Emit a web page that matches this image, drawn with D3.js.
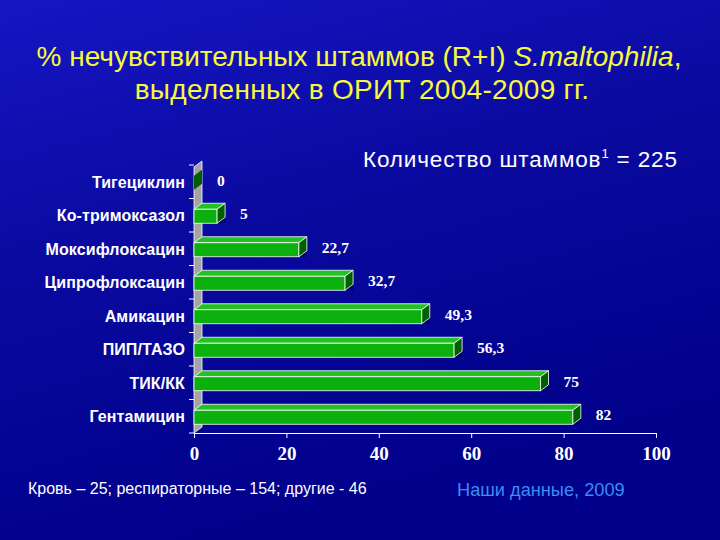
<!DOCTYPE html>
<html>
<head>
<meta charset="utf-8">
<script src="https://cdn.jsdelivr.net/npm/d3@7"></script>
<style>
  html, body { margin: 0; padding: 0; background: #000088; }
  svg { display: block; }
</style>
</head>
<body>
<div class="chart"></div>
<script>
// data
const categories = ['Тигециклин', 'Ко-тримоксазол', 'Моксифлоксацин', 'Ципрофлоксацин',
  'Амикацин', 'ПИП/ТАЗО', 'ТИК/КК', 'Гентамицин']
const values = [0, 5, 22.7, 32.7, 49.3, 56.3, 75, 82]
const xTicks = [0, 20, 40, 60, 80, 100]

const width = 720, height = 540
const depthX = 8, depthY = 6, barH = 14

let svg = d3.select('.chart').append('svg')
  .attr('width', width)
  .attr('height', height)

// slide background
let defs = svg.append('defs')
let grad = defs.append('linearGradient')
  .attr('id', 'bg')
  .attr('x1', 0).attr('y1', 0)
  .attr('x2', 0.35).attr('y2', 1)
grad.append('stop').attr('offset', 0).attr('stop-color', '#1616c4')
grad.append('stop').attr('offset', 0.45).attr('stop-color', '#0a0aa0')
grad.append('stop').attr('offset', 1).attr('stop-color', '#00008a')

svg.append('rect')
  .attr('width', width)
  .attr('height', height)
  .attr('fill', 'url(#bg)')

// title
const title = svg.append('text')
  .attr('text-anchor', 'middle')
  .attr('font-family', 'Liberation Sans, Arial, sans-serif')
  .attr('font-size', 28)
  .attr('fill', '#f8f83c')
title.append('tspan').attr('x', 359).attr('y', 66)
  .text('% нечувствительных штаммов (R+I) ')
title.append('tspan').attr('font-style', 'italic').text('S.maltophilia')
title.append('tspan').text(',')
title.append('tspan').attr('x', 362).attr('y', 99)
  .attr('letter-spacing', 0.3)
  .text('выделенных в ОРИТ 2004-2009 гг.')

// count label
const count = svg.append('text')
  .attr('x', 363).attr('y', 167)
  .attr('font-family', 'Liberation Sans, Arial, sans-serif')
  .attr('font-size', 22.5)
  .attr('letter-spacing', 0.85)
  .attr('fill', 'white')
count.append('tspan').text('Количество штаммов')
count.append('tspan').attr('font-size', 13).attr('dy', -9).text('1')
count.append('tspan').attr('dy', 9).text(' = 225')

let x = d3.scaleLinear()
  .domain([0, 100])
  .range([194, 656])

let y = d3.scaleBand()
  .domain(categories)
  .range([165, 433])

const x0 = x(0)

// grey side wall
svg.append('polygon')
  .attr('points', [[x0, y.range()[1]], [x0, y.range()[0] + 2], [x0 + depthX, y.range()[0] - depthY + 2],
    [x0 + depthX, y.range()[1] - depthY]].map(p => p.join(',')).join(' '))
  .attr('fill', '#a4a4a4')
  .attr('stroke', 'white')
  .attr('stroke-width', 0.8)

// wall ticks at band edges
categories.concat(['end']).forEach((c, i) => {
  let yy = y.range()[0] + i * y.step()
  svg.append('line')
    .attr('x1', x0 - 5).attr('x2', x0)
    .attr('y1', yy).attr('y2', yy)
    .attr('stroke', 'white')
})

// x axis
let xAxis = svg.append('g')
  .attr('transform', 'translate(0,' + y.range()[1] + ')')
  .call(d3.axisBottom(x).tickValues(xTicks).tickSize(5).tickPadding(9))
xAxis.select('.domain').attr('stroke', 'white')
xAxis.selectAll('.tick line').attr('stroke', 'white')
xAxis.selectAll('.tick text')
  .attr('fill', 'white')
  .attr('font-family', 'Liberation Serif, Times New Roman, serif')
  .attr('font-weight', 'bold')
  .attr('font-size', 19)

// category labels
svg.selectAll('.cat')
  .data(categories)
  .join('text')
  .attr('class', 'cat')
  .attr('x', 185)
  .attr('y', d => y(d) + y.bandwidth() / 2 + 6)
  .attr('text-anchor', 'end')
  .attr('font-family', 'Liberation Sans, Arial, sans-serif')
  .attr('font-weight', 'bold')
  .attr('font-size', 16)
  .attr('letter-spacing', 0.1)
  .attr('fill', 'white')
  .text(d => d)

// 3d bars
const pts = arr => arr.map(p => p.join(',')).join(' ')
categories.forEach((c, i) => {
  let v = values[i]
  let x1 = x(v)
  let top = y(c) + (y.bandwidth() - barH) / 2 + 1
  let g = svg.append('g')

  // faint shadow under the bar
  if (v > 0) {
    g.append('rect')
      .attr('x', x0 + depthX).attr('y', top + barH - depthY + 2)
      .attr('width', x1 - x0).attr('height', 4)
      .attr('fill', '#00006a')
  }
  if (v > 0) {
    g.append('polygon')
      .attr('points', pts([[x0, top], [x0 + depthX, top - depthY], [x1 + depthX, top - depthY], [x1, top]]))
      .attr('fill', '#22c222')
      .attr('stroke', 'white').attr('stroke-width', 0.8)
    g.append('rect')
      .attr('x', x0).attr('y', top)
      .attr('width', x1 - x0).attr('height', barH)
      .attr('fill', '#0cb00c')
      .attr('stroke', 'white').attr('stroke-width', 0.8)
  }
  g.append('polygon')
    .attr('points', pts([[x1, top], [x1 + depthX, top - depthY], [x1 + depthX, top + barH - depthY], [x1, top + barH]]))
    .attr('fill', '#006000')
    .attr('stroke', v > 0 ? 'white' : 'none').attr('stroke-width', 0.8)

  svg.append('text')
    .attr('x', x1 + 23)
    .attr('y', y(c) + y.bandwidth() / 2 + 4)
    .attr('font-family', 'Liberation Serif, Times New Roman, serif')
    .attr('font-weight', 'bold')
    .attr('font-size', 15.5)
    .attr('fill', 'white')
    .text(String(v).replace('.', ','))
})

// footnotes
svg.append('text')
  .attr('x', 28).attr('y', 494)
  .attr('font-family', 'Liberation Sans, Arial, sans-serif')
  .attr('font-size', 16)
  .attr('fill', 'white')
  .text('Кровь – 25; респираторные – 154; другие - 46')

svg.append('text')
  .attr('x', 457).attr('y', 496)
  .attr('font-family', 'Liberation Sans, Arial, sans-serif')
  .attr('font-size', 18.2)
  .attr('fill', '#3c8cf4')
  .text('Наши данные, 2009')
</script>
</body>
</html>
